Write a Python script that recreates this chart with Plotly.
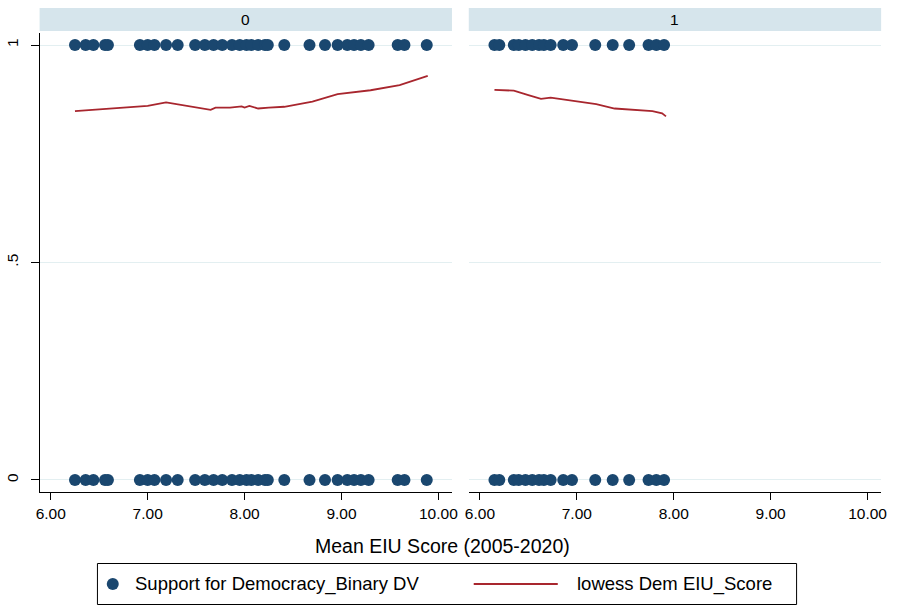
import plotly.graph_objects as go

# EIU scores of the observations in each group (every score appears with both outcomes 0 and 1)
eiu_group0 = [6.25, 6.36, 6.44, 6.56, 6.59, 6.92, 7.00, 7.07, 7.19, 7.31,
              7.49, 7.59, 7.68, 7.77, 7.87, 7.95, 8.02, 8.07, 8.14, 8.21, 8.24,
              8.41, 8.67, 8.83, 8.96, 9.06, 9.13, 9.20, 9.28, 9.58, 9.65, 9.88]
eiu_group1 = [6.15, 6.20, 6.35, 6.40, 6.47, 6.54, 6.61, 6.66, 6.73, 6.86,
              6.95, 7.19, 7.37, 7.54, 7.74, 7.82, 7.90]
outcomes = [0, 1]

# lowess smooth of support for democracy on EIU score
lowess0_x = [6.25, 6.60, 7.00, 7.19, 7.45, 7.65, 7.70, 7.85, 7.97, 8.00, 8.05, 8.10, 8.14, 8.25, 8.41, 8.70, 8.96, 9.30, 9.60, 9.89]
lowess0_y = [0.848, 0.853, 0.860, 0.868, 0.859, 0.851, 0.856, 0.856, 0.859, 0.856, 0.860, 0.857, 0.854, 0.856, 0.858, 0.870, 0.887, 0.896, 0.908, 0.929]
lowess1_x = [6.15, 6.35, 6.50, 6.63, 6.73, 6.90, 7.05, 7.20, 7.39, 7.60, 7.78, 7.88, 7.92]
lowess1_y = [0.897, 0.895, 0.885, 0.876, 0.879, 0.874, 0.869, 0.864, 0.854, 0.851, 0.848, 0.843, 0.836]

panel_labels = ["0", "1"]
x_ticks = [6, 7, 8, 9, 10]
x_tick_text = ["6.00", "7.00", "8.00", "9.00", "10.00"]
y_ticks = [0, 0.5, 1]
y_tick_text = ["0", ".5", "1"]
series_names = ["Support for Democracy_Binary DV", "lowess Dem EIU_Score"]

W, H = 899, 606
NAVY = "#1a476f"
MAROON = "#a8262e"
GRID = "#e3eff1"
STRIP = "#d6e5ec"
FONT = "Liberation Sans, Arial, sans-serif"

def px_x(p):
    return p / W

def px_y(p):
    return 1 - p / H

panel_px = [(36, 453), (470, 887)]
y_top_px, y_bot_px = 33, 492
x_range = [5.885, 10.14]
y_range = [-0.0276, 1.0276]

fig = go.Figure()

groups = [(eiu_group0, lowess0_x, lowess0_y), (eiu_group1, lowess1_x, lowess1_y)]
for i, (pts, lx, ly) in enumerate(groups):
    xa = "x" if i == 0 else "x2"
    ya = "y" if i == 0 else "y2"
    xs, ys = [], []
    for o in outcomes:
        xs += pts
        ys += [o] * len(pts)
    fig.add_trace(go.Scatter(
        x=xs, y=ys, mode="markers", xaxis=xa, yaxis=ya,
        marker=dict(color=NAVY, size=12, line=dict(width=0)),
        name=series_names[0], showlegend=False))
    fig.add_trace(go.Scatter(
        x=lx, y=ly, mode="lines", xaxis=xa, yaxis=ya,
        line=dict(color=MAROON, width=1.8),
        name=series_names[1], showlegend=False))

axis_common = dict(
    range=x_range, tickmode="array", tickvals=x_ticks, ticktext=x_tick_text,
    showgrid=False, zeroline=False, showline=True, linecolor="black", linewidth=1,
    ticks="outside", ticklen=7, tickcolor="black", tickwidth=1,
    tickfont=dict(family=FONT, size=15.5, color="black"),
)
yaxis_common = dict(
    range=y_range, tickmode="array", tickvals=y_ticks, ticktext=y_tick_text,
    showgrid=True, gridcolor=GRID, gridwidth=1, zeroline=False,
    domain=[px_y(y_bot_px), px_y(y_top_px)],
)

fig.update_layout(
    width=W, height=H,
    margin=dict(l=0, r=0, t=0, b=0),
    paper_bgcolor="white", plot_bgcolor="white",
    font=dict(family=FONT, color="black"),
    showlegend=False,
    xaxis=dict(domain=[px_x(panel_px[0][0]), px_x(panel_px[0][1])], anchor="y", **axis_common),
    xaxis2=dict(domain=[px_x(panel_px[1][0]), px_x(panel_px[1][1])], anchor="y2", **axis_common),
    yaxis=dict(anchor="x", showline=True, linecolor="black", linewidth=1,
               ticks="outside", ticklen=8, tickcolor="black", ticklabelstandoff=6,
               tickangle=-90, tickfont=dict(family=FONT, size=15.5, color="black"),
               **yaxis_common),
    yaxis2=dict(anchor="x2", showline=False, ticks="", showticklabels=False,
                **yaxis_common),
)

# panel header strips with group labels
for (x0, x1), lab in zip(panel_px, panel_labels):
    fig.add_shape(type="rect", xref="paper", yref="paper",
                  x0=px_x(x0), x1=px_x(x1), y0=px_y(31), y1=px_y(8),
                  fillcolor=STRIP, line=dict(width=0), layer="below")
    fig.add_annotation(x=px_x((x0 + x1) / 2), y=px_y(19.5), xref="paper", yref="paper",
                       xanchor="center", yanchor="middle",
                       text=lab, showarrow=False,
                       font=dict(family=FONT, size=15.5, color="black"))

# shared x-axis title
fig.add_annotation(x=px_x(443), y=px_y(546), xref="paper", yref="paper",
                   xanchor="center", yanchor="middle",
                   text="Mean EIU Score (2005-2020)", showarrow=False,
                   font=dict(family=FONT, size=19.5, color="black"))

# key below the plot: box, marker glyph, line glyph and labels
key_y = px_y(584)
fig.add_shape(type="rect", xref="paper", yref="paper",
              x0=px_x(94.5), x1=px_x(801.5), y0=px_y(604.5), y1=px_y(563.5),
              line=dict(color="black", width=1), fillcolor="rgba(0,0,0,0)")
fig.add_shape(type="circle", xref="paper", yref="paper",
              xsizemode="pixel", ysizemode="pixel",
              xanchor=px_x(110), yanchor=key_y,
              x0=-6, x1=6, y0=-6, y1=6,
              fillcolor=NAVY, line=dict(width=0))
fig.add_shape(type="line", xref="paper", yref="paper",
              x0=px_x(475), x1=px_x(560), y0=key_y, y1=key_y,
              line=dict(color=MAROON, width=1.8))
fig.add_annotation(x=px_x(130), y=key_y, xref="paper", yref="paper",
                   xanchor="left", yanchor="middle", showarrow=False,
                   text=series_names[0], font=dict(family=FONT, size=18.5, color="black"))
fig.add_annotation(x=px_x(577), y=key_y, xref="paper", yref="paper",
                   xanchor="left", yanchor="middle", showarrow=False,
                   text=series_names[1], font=dict(family=FONT, size=18.5, color="black"))

fig.write_html("out.html")
